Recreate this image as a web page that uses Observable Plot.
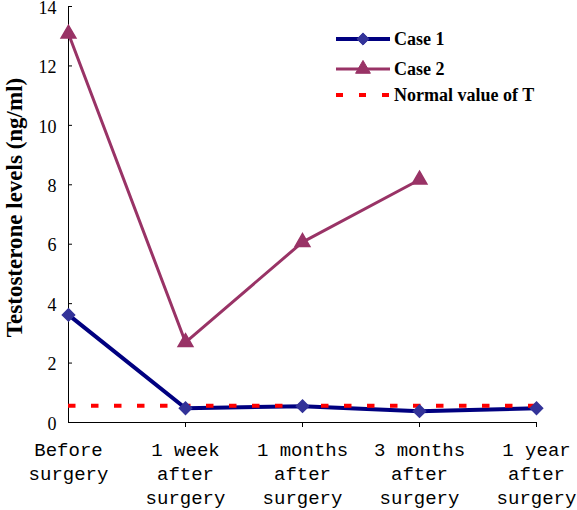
<!DOCTYPE html>
<html><head><meta charset="utf-8">
<script src="https://cdn.jsdelivr.net/npm/d3@7"></script>
<script src="https://cdn.jsdelivr.net/npm/@observablehq/plot@0.6"></script>
<style>
body{margin:0;background:#fff;}
#wrap{position:relative;width:577px;height:510px;overflow:hidden;background:#fff;}
#wrap svg{position:absolute;left:0;top:0;}
</style></head><body><div id="wrap"></div>
<script>
const categories = ["Before surgery","1 week after surgery","1 months after surgery","3 months after surgery","1 year after surgery"];
const tickLabels = ["Before\nsurgery","1 week\nafter\nsurgery","1 months\nafter\nsurgery","3 months\nafter\nsurgery","1 year\nafter\nsurgery"];
const case1 = [3.62, 0.48, 0.55, 0.38, 0.48];
const case2 = [13.08, 2.7, 6.07, 8.17];
const normalValue = 0.56;
const yTicks = [0,2,4,6,8,10,12,14];
const seriesNames = ["Case 1","Case 2","Normal value of T"];
const yTitle = "Testosterone levels (ng/ml)";

const d1 = categories.map((c,i)=>({cat:c, v:case1[i]}));
const d2 = case2.map((v,i)=>({cat:categories[i], v}));

const serif = "'Liberation Serif','Times New Roman',serif";
const mono = "'Liberation Mono','Courier New',monospace";
const c1 = "#000080", c1m = "#333399", c2 = "#993366", cn = "#ff0000";

const chart = Plot.plot({
  width:577, height:510, marginLeft:68, marginRight:41, marginTop:6, marginBottom:88,
  style:{background:"#fff", overflow:"visible", color:"#000"},
  x:{type:"point", domain:categories, padding:0, axis:null},
  y:{domain:[0,14], axis:null},
  marks:[
    Plot.ruleY([0], {stroke:"#000", strokeWidth:1}),
    Plot.ruleX([categories[0]], {y1:0, y2:14, stroke:"#000", strokeWidth:1}),
    Plot.axisY({ticks:yTicks, tickSize:4, dx:4, tickFormat:()=>"", label:null, stroke:"#000"}),
    Plot.axisY({ticks:yTicks, tickSize:0, tickPadding:12, dy:1.5, fontSize:18, fontFamily:serif, fill:"#000", label:null}),
    Plot.axisX({ticks:categories.slice(1), tickSize:5, tickFormat:()=>"", label:null, stroke:"#000"}),
    Plot.axisX({ticks:categories, tickSize:0, tickPadding:16, fontSize:19, fontFamily:mono, fill:"#000", label:null,
      lineHeight:24/19, tickFormat:d=>tickLabels[categories.indexOf(d)]}),
    Plot.text([yTitle], {text:d=>d, frameAnchor:"left", textAnchor:"middle", dx:-54, dy:-7, rotate:-90, fontSize:23, fontWeight:"bold", fontFamily:serif, fill:"#000"}),
    Plot.line(d1, {x:"cat", y:"v", stroke:c1, strokeWidth:4}),
    Plot.line(d2, {x:"cat", y:"v", stroke:c2, strokeWidth:3}),
    Plot.ruleY([normalValue], {stroke:cn, strokeWidth:4, strokeDasharray:"7.5,15.5"}),
    Plot.dot(d1, {x:"cat", y:"v", symbol:"diamond2", r:5.5, fill:c1m, stroke:c1m}),
    Plot.dot(d2, {x:"cat", y:"v", symbol:"triangle", r:5.5, fill:c2, stroke:c2})
  ]
});
const wrap = document.getElementById("wrap");
wrap.appendChild(chart);

// legend
const lg = d3.select(wrap).append("svg").attr("width",577).attr("height",510).style("pointer-events","none");
const items = [
  {name:seriesNames[0], y:39, stroke:c1, w:4, sym:d3.symbolDiamond2, fill:c1m},
  {name:seriesNames[1], y:69, stroke:c2, w:3, sym:d3.symbolTriangle, fill:c2},
  {name:seriesNames[2], y:95, stroke:cn, w:4, dash:"7,16"}
];
items.forEach(it=>{
  const l = lg.append("line").attr("x1",336).attr("x2",390).attr("y1",it.y).attr("y2",it.y)
    .attr("stroke",it.stroke).attr("stroke-width",it.w);
  if(it.dash) l.attr("stroke-dasharray",it.dash);
  if(it.sym) lg.append("path").attr("d", d3.symbol(it.sym, 95)()).attr("transform",`translate(363,${it.y})`).attr("fill",it.fill).attr("stroke",it.fill);
  lg.append("text").attr("x",394).attr("y",it.y+6).text(it.name)
    .attr("font-family",serif).attr("font-weight","bold").attr("font-size",18).attr("fill","#000");
});
</script></body></html>
